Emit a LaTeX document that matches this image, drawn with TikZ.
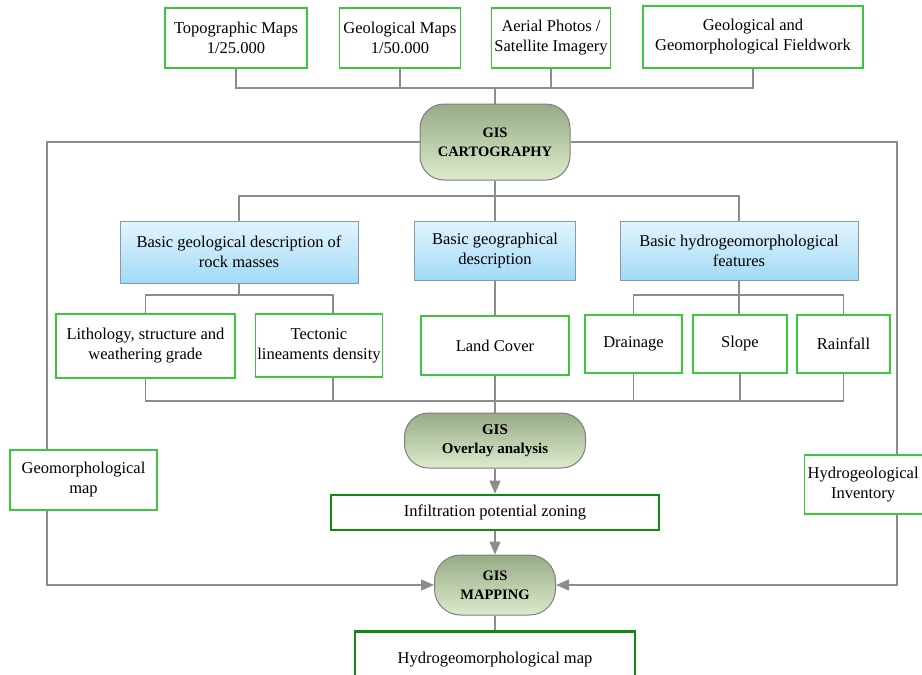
\documentclass[tikz,border=0pt]{standalone}
\usepackage{fontspec}
\setmainfont{Liberation Serif}
\usetikzlibrary{arrows.meta,backgrounds}
\definecolor{linegray}{HTML}{8C8C8C}
\definecolor{boxgreen}{HTML}{3CC83C}
\definecolor{darkgreen}{HTML}{118A11}
\definecolor{bluegray}{HTML}{8A9AA4}
\definecolor{bluetop}{HTML}{E2F5FE}
\definecolor{bluebot}{HTML}{A2DAF6}
\definecolor{gisborder}{HTML}{7E7E7E}
\definecolor{gistop}{HTML}{97AB86}
\definecolor{gisbot}{HTML}{DDEBCC}
\begin{document}
\begin{tikzpicture}[x=1pt,y=-1pt,
  basefont/.style={font=\fontsize{16.5}{20}\selectfont},
  greenbox/.style={basefont, draw=boxgreen, line width=1.4pt, fill=white, align=center, inner sep=2pt},
  darkbox/.style={basefont, draw=darkgreen, line width=2.6pt, fill=white, align=center, inner sep=2pt},
  bluebox/.style={basefont, draw=bluegray, line width=1pt, top color=bluetop, bottom color=bluebot, align=center, inner sep=2pt},
  gisbox/.style={draw=gisborder, line width=1pt, rounded corners=24pt, top color=gistop, bottom color=gisbot, align=center, inner sep=2pt, font=\bfseries\fontsize{14.5}{19}\selectfont},
  conn/.style={draw=linegray, line width=1.4pt},
  arr/.style={conn, -{Triangle[length=13pt,width=11pt]}}]
\useasboundingbox (0,0) rectangle (922,675);
\clip (0,0) rectangle (922,675);

% top sources
\node[greenbox, minimum width=142pt, minimum height=60pt] (topo) at (236,38) {Topographic Maps\\1/25.000};
\node[greenbox, minimum width=121pt, minimum height=60pt] (geomap) at (400,38) {Geological Maps\\1/50.000};
\node[greenbox, minimum width=119pt, minimum height=60pt] (aerial) at (551,38) {Aerial Photos /\\Satellite Imagery};
\node[greenbox, minimum width=220pt, minimum height=62pt] (field) at (753,37) {Geological and\\Geomorphological Fieldwork};

% GIS cartography
\node[gisbox, minimum width=150pt, minimum height=76pt] (cart) at (495,142) {GIS\\CARTOGRAPHY};

% blue boxes
\node[bluebox, minimum width=238pt, minimum height=62pt] (blue1) at (239,252) {Basic geological description of\\rock masses};
\node[bluebox, minimum width=161pt, minimum height=59pt] (blue2) at (495,250.5) {Basic geographical\\description};
\node[bluebox, minimum width=238pt, minimum height=59pt] (blue3) at (739,250.5) {Basic hydrogeomorphological\\features};

% thematic layers
\node[greenbox, minimum width=179pt, minimum height=64pt] (lith) at (145.5,346) {Lithology, structure and\\weathering grade};
\node[greenbox, minimum width=106pt, minimum height=63pt] (tect) at (319,345.5) {Tectonic\\lineaments density};
\node[greenbox, minimum width=148pt, minimum height=59pt] (land) at (495,345.5) {Land Cover};
\node[greenbox, minimum width=97pt, minimum height=58pt] (drain) at (633.5,344) {Drainage};
\node[greenbox, minimum width=94pt, minimum height=58pt] (slope) at (740,344) {Slope};
\node[greenbox, minimum width=93pt, minimum height=58pt] (rain) at (843.5,344) {Rainfall};

% overlay and mapping
\node[gisbox, minimum width=181pt, minimum height=55pt, font=\bfseries\fontsize{15}{19}\selectfont] (overlay) at (495,440.5) {GIS\\Overlay analysis};
\node[darkbox, minimum width=328pt, minimum height=35pt] (infil) at (495,512.5) {Infiltration potential zoning};
\node[gisbox, minimum width=121pt, minimum height=60pt, rounded corners=26pt] (mapping) at (495,585) {GIS\\MAPPING};
\node[darkbox, minimum width=280pt, minimum height=56pt, anchor=north] (hmap) at (495,630) {Hydrogeomorphological map};

% side inputs
\node[greenbox, minimum width=147pt, minimum height=60pt] (geomorph) at (83.5,480) {Geomorphological\\map};
\node[greenbox, minimum height=59pt, inner xsep=3pt, anchor=west] (hydro) at (804,484.5) {Hydrogeological\hspace*{12pt}\\Inventory\hspace*{12pt}};

\coordinate (bus1) at (495,88);
\coordinate (bus2) at (495,196);
\coordinate (bus3l) at (239,295);
\coordinate (bus3r) at (739,295);
\coordinate (bus4) at (495,401);
\coordinate (tectc) at (333,0);
\coordinate (fl) at (47,142);
\coordinate (fr) at (897,142);

\begin{scope}[on background layer]
% sources to cartography
\draw[conn] (topo.south) -- (topo.south |- bus1) -- (field.south |- bus1) -- (field.south);
\draw[conn] (geomap.south) -- (geomap.south |- bus1);
\draw[conn] (aerial.south) -- (aerial.south |- bus1);
\draw[conn] (bus1) -- (cart.north);
% cartography to blue boxes
\draw[conn] (cart.south) -- (blue2.north);
\draw[conn] (blue1.north) -- (blue1.north |- bus2) -- (blue3.north |- bus2) -- (blue3.north);
% blue1 to its layers
\draw[conn] (blue1.south) -- (bus3l);
\draw[conn] (lith.north) -- (lith.north |- bus3l) -- (tectc |- bus3l) -- (tectc |- tect.north);
% blue2 to land cover
\draw[conn] (blue2.south) -- (land.north);
% blue3 to its layers
\draw[conn] (blue3.south) -- (blue3.south |- slope.north);
\draw[conn] (drain.north) -- (drain.north |- bus3r) -- (rain.north |- bus3r) -- (rain.north);
% layers to overlay
\draw[conn] (lith.south) -- (lith.south |- bus4) -- (rain.south |- bus4) -- (rain.south);
\draw[conn] (tectc |- tect.south) -- (tectc |- bus4);
\draw[conn] (drain.south) -- (drain.south |- bus4);
\draw[conn] (slope.south) -- (slope.south |- bus4);
\draw[conn] (land.south) -- (overlay.north);
% side frame
\draw[arr] (cart.west) -- (fl) -- (fl |- mapping.west) -- (mapping.west);
\draw[arr] (cart.east) -- (fr) -- (fr |- mapping.east) -- (mapping.east);
% mapping output
\draw[conn] (mapping.south) -- (hmap.north);
\end{scope}
\draw[arr] (overlay.south) -- (infil.north);
\draw[arr] (infil.south) -- (mapping.north);
\end{tikzpicture}
\end{document}
